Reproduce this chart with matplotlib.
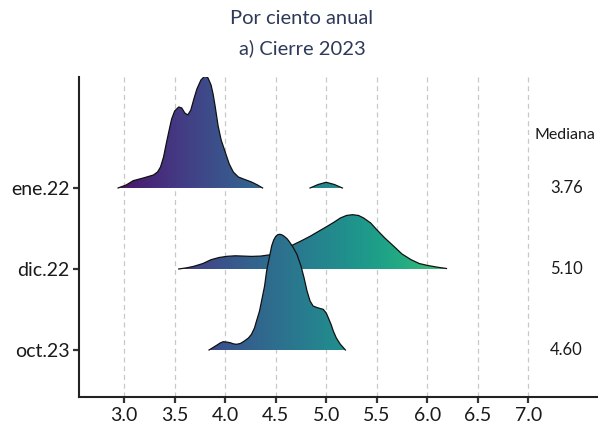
import numpy as np
import matplotlib
matplotlib.use("Agg")
import matplotlib.pyplot as plt
from matplotlib.patches import Polygon
from matplotlib.colors import Normalize

plt.rcParams['font.family'] = ['Lato', 'DejaVu Sans']

# ---- data ----
categorias = ["oct.23", "dic.22", "ene.22"]
medianas = ["4.60", "5.10", "3.76"]

# densities: x values and ridge heights (in pixels of the original, row spacing = 81)
ene22_x = [2.94, 3.02, 3.09, 3.19, 3.29, 3.33, 3.36, 3.39, 3.42, 3.45, 3.47, 3.50,
           3.54, 3.57, 3.60, 3.63, 3.66, 3.69, 3.72, 3.76, 3.80, 3.83, 3.86, 3.88,
           3.90, 3.93, 3.96, 4.00, 4.04, 4.08, 4.13, 4.18, 4.26, 4.32, 4.37]
ene22_h = [0, 3, 7.3, 10, 13, 16, 21, 31, 46, 60, 69, 77,
           81, 80, 75, 73, 78, 89, 99, 108, 112, 110, 103, 94,
           82, 62, 48, 36, 24, 16, 11, 9, 6, 3, 0]
ene22b_x = [4.84, 4.92, 5.00, 5.08, 5.16]
ene22b_h = [0, 3.5, 5.7, 3.5, 0]

dic22_x = [3.54, 3.62, 3.69, 3.78, 3.86, 3.94, 4.02, 4.10, 4.18, 4.26, 4.35, 4.45,
           4.56, 4.66, 4.75, 4.84, 4.93, 5.01, 5.08, 5.14, 5.20, 5.26, 5.32, 5.37,
           5.44, 5.50, 5.58, 5.67, 5.75, 5.84, 5.92, 6.00, 6.10, 6.19]
dic22_h = [0, 1.2, 2.7, 5.5, 9.3, 11.5, 12.7, 13.2, 12.9, 12.6, 12.9, 14.3,
           19, 23.6, 28, 32.7, 38, 42.7, 47, 51, 53.5, 54.3, 53.5, 51,
           46, 39.3, 31, 22.6, 15, 9.3, 5.5, 3.6, 1.8, 0.5]

oct23_x = [3.84, 3.88, 3.92, 3.95, 3.98, 4.01, 4.05, 4.08, 4.11, 4.15, 4.19, 4.23,
           4.26, 4.29, 4.31, 4.34, 4.36, 4.39, 4.41, 4.44, 4.46, 4.48, 4.50, 4.52,
           4.54, 4.56, 4.58, 4.61, 4.63, 4.67, 4.71, 4.75, 4.78, 4.81, 4.84, 4.87,
           4.91, 4.94, 4.97, 5.00, 5.02, 5.05, 5.07, 5.10, 5.14, 5.19]
oct23_h = [0, 2.5, 5, 7, 8.3, 8, 7.3, 6.2, 5.7, 6.5, 9, 12,
           15.7, 22, 29, 39, 49, 64, 79, 94, 104, 110, 113.5, 115.3,
           115.7, 115.2, 114, 111.5, 109, 103, 95.7, 84, 72.4, 59, 49, 44,
           42.4, 41.5, 40.7, 37, 32.4, 25, 19, 12, 5.7, 0]

xticks = [3.0, 3.5, 4.0, 4.5, 5.0, 5.5, 6.0, 6.5, 7.0]

# ---- figure ----
fig = plt.figure(figsize=(5.98, 4.25), dpi=100)
ax = fig.add_axes([79/598, 1-397/425, 1-79/598, (397-77)/425])
ax.set_xlim(2.553, 7.69)
ax.set_ylim(0.42, 4.37)

cmap = plt.get_cmap("viridis")
norm = Normalize(vmin=2.69, vmax=7.69)
escala = 1/81.0

def ridge(xs, hs, base, z):
    xs = np.asarray(xs, float)
    ys = base + np.asarray(hs, float) * escala
    verts = np.column_stack([np.r_[xs, xs[::-1]], np.r_[ys, np.full(len(xs), base)]])
    poly = Polygon(verts, closed=True, facecolor="none", edgecolor="none")
    ax.add_patch(poly)
    grad = np.linspace(xs.min(), xs.max(), 300)[None, :]
    im = ax.imshow(grad, cmap=cmap, norm=norm, aspect="auto",
                   extent=[xs.min(), xs.max(), base, ys.max()], origin="lower",
                   zorder=z, interpolation="bilinear")
    im.set_clip_path(poly)
    ax.plot(xs, ys, color="#111111", lw=0.9, zorder=z + 0.1, solid_joinstyle="round")

ridge(ene22_x, ene22_h, 3, 3)
ridge(ene22b_x, ene22b_h, 3, 3)
ridge(dic22_x, dic22_h, 2, 4)
ridge(oct23_x, oct23_h, 1, 5)

# grid
for xv in xticks:
    ax.axvline(xv, color="#c8c8c8", lw=0.9, ls=(0, (4, 3)), zorder=1)

ax.set_xticks(xticks)
ax.set_xticklabels([f"{v:.1f}" for v in xticks])
ax.set_yticks([1, 2, 3])
ax.set_yticklabels(categorias)
ax.tick_params(axis="both", length=4, width=1.6, color="#333333",
               labelsize=14, labelcolor="#1a1a1a", pad=3)

for s in ["top", "right"]:
    ax.spines[s].set_visible(False)
for s in ["left", "bottom"]:
    ax.spines[s].set_linewidth(1.5)
    ax.spines[s].set_color("#222222")

# median annotations
ax.text(7.66, 3.65, "Mediana", ha="right", va="center", fontsize=11.5,
        color="#1a1a1a", clip_on=False)
for yv, m in zip([1, 2, 3], medianas):
    ax.text(7.54, yv, m, ha="right", va="center", fontsize=12,
            color="#1a1a1a", clip_on=False)

fig.text(0.505, 1 - 19/425, "Por ciento anual", ha="center", va="center",
         fontsize=14.5, color="#2e3a59")
fig.text(0.505, 1 - 48/425, "a) Cierre 2023", ha="center", va="center",
         fontsize=14.5, color="#2e3a59")

fig.savefig("out.png", dpi=100)
